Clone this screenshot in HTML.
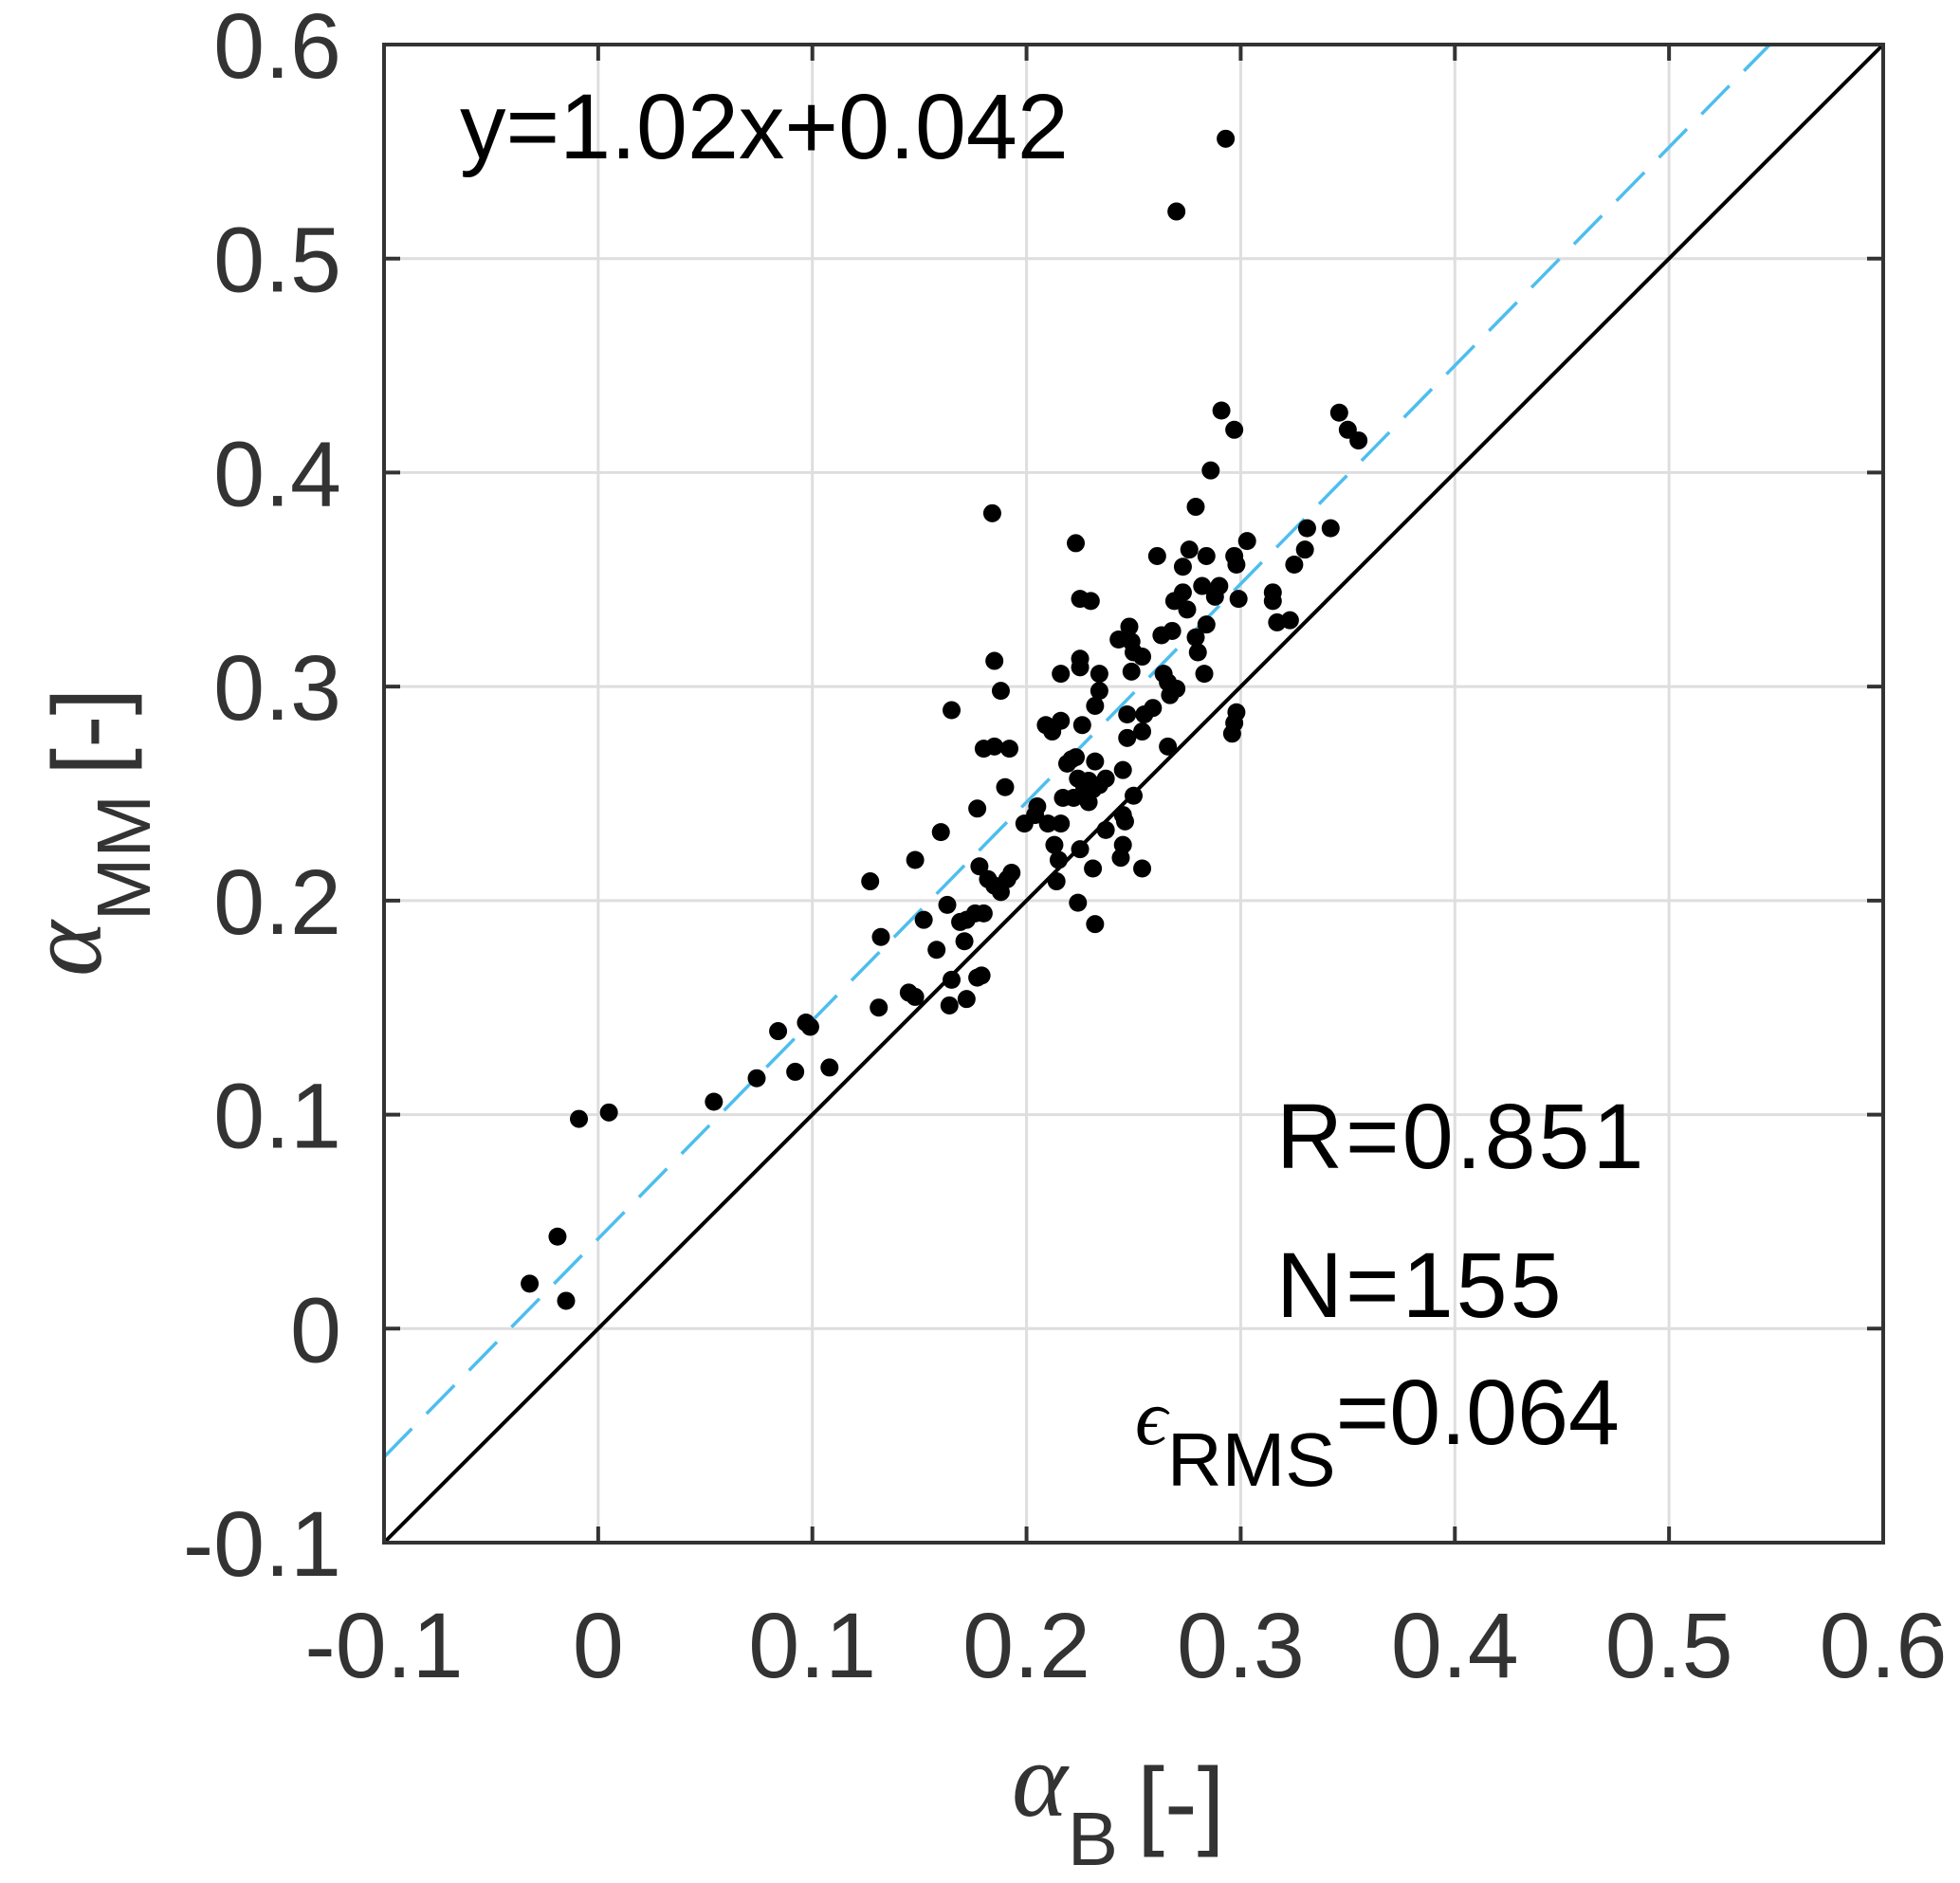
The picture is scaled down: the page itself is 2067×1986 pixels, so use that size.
<!DOCTYPE html>
<html><head><meta charset="utf-8">
<style>
html,body{margin:0;padding:0;background:#fff;}
svg{display:block;font-family:"Liberation Sans",Arial,sans-serif;}
</style></head>
<body>
<svg id="chart" width="2067" height="1986" viewBox="0 0 2067 1986" xmlns="http://www.w3.org/2000/svg">
<g id="grid"></g>
<g id="lines"></g>
<g id="points"></g>
<g id="axes"></g>
<text x="485" y="167" font-size="97" fill="#000">y=1.02x+0.042</text>
<text x="1346" y="1232" font-size="97" fill="#000" letter-spacing="3">R=0.851</text>
<text x="1346" y="1389" font-size="97" fill="#000" letter-spacing="3">N=155</text>
<text x="1197" y="1523" font-size="97" fill="#000"><tspan font-family="'Liberation Serif',serif" font-style="italic" font-size="84">ϵ</tspan><tspan font-size="80" dy="44">RMS</tspan><tspan dy="-44">=0.064</tspan></text>
<text x="1067" y="1915" font-size="97" fill="#333"><tspan font-family="'Liberation Serif',serif" font-style="italic" font-size="112">α</tspan><tspan font-size="80" dy="52">B</tspan><tspan dy="-30" dx="20" font-size="104">[-]</tspan></text>
<text transform="translate(106,1030) rotate(-90)" font-size="97" fill="#333"><tspan font-family="'Liberation Serif',serif" font-style="italic" font-size="112">α</tspan><tspan font-size="80" dy="52">MM</tspan><tspan dy="-30" dx="20" font-size="104">[-]</tspan></text>
</svg>
<script>
const xTicks=[-0.1,0,0.1,0.2,0.3,0.4,0.5,0.6];
const yTicks=[-0.1,0,0.1,0.2,0.3,0.4,0.5,0.6];
const xTickLabels=["-0.1","0","0.1","0.2","0.3","0.4","0.5","0.6"];
const yTickLabels=["-0.1","0","0.1","0.2","0.3","0.4","0.5","0.6"];
const fitSlope=1.02;
const fitIntercept=0.042;
const xVals=[0.293,0.270,0.291,0.297,0.346,0.350,0.355,0.286,0.184,0.279,0.223,0.303,0.331,0.342,0.330,0.325,0.261,0.276,0.284,0.297,0.298,0.273,0.273,0.282,0.290,0.288,0.299,0.225,0.230,0.269,0.275,0.284,0.315,0.315,0.317,0.323,0.248,0.279,0.263,0.268,0.243,0.249,0.254,0.250,0.280,0.185,0.225,0.225,0.216,0.234,0.249,0.283,0.264,0.266,0.234,0.188,0.270,0.267,0.165,0.232,0.259,0.247,0.255,0.298,0.226,0.209,0.216,0.212,0.297,0.296,0.254,0.247,0.266,0.180,0.185,0.192,0.232,0.221,0.223,0.245,0.219,0.190,0.224,0.229,0.234,0.237,0.227,0.231,0.250,0.217,0.222,0.205,0.229,0.177,0.204,0.199,0.210,0.216,0.245,0.246,0.237,0.160,0.213,0.225,0.245,0.215,0.244,0.231,0.254,0.148,0.193,0.185,0.191,0.188,0.178,0.182,0.214,0.127,0.180,0.176,0.172,0.169,0.163,0.152,0.224,0.232,0.132,0.171,0.158,0.177,0.179,0.165,0.145,0.148,0.172,0.164,0.131,0.084,0.097,0.099,0.074,0.092,0.108,0.054,-0.009,0.005,-0.019,-0.032,-0.015];
const yVals=[0.556,0.522,0.429,0.420,0.428,0.420,0.415,0.401,0.381,0.384,0.367,0.368,0.374,0.374,0.364,0.357,0.361,0.364,0.361,0.361,0.357,0.356,0.344,0.347,0.347,0.342,0.341,0.341,0.340,0.340,0.336,0.329,0.344,0.340,0.330,0.331,0.328,0.323,0.324,0.326,0.322,0.321,0.314,0.316,0.316,0.312,0.313,0.309,0.306,0.306,0.307,0.306,0.306,0.302,0.298,0.298,0.299,0.296,0.289,0.291,0.290,0.287,0.287,0.288,0.282,0.282,0.284,0.279,0.283,0.278,0.279,0.276,0.272,0.271,0.272,0.271,0.265,0.266,0.267,0.261,0.264,0.253,0.257,0.256,0.254,0.257,0.253,0.252,0.249,0.248,0.248,0.244,0.246,0.243,0.240,0.236,0.236,0.236,0.240,0.237,0.233,0.232,0.226,0.224,0.226,0.219,0.220,0.215,0.215,0.219,0.213,0.207,0.210,0.204,0.216,0.210,0.209,0.209,0.194,0.194,0.191,0.190,0.198,0.191,0.199,0.189,0.183,0.181,0.177,0.164,0.165,0.163,0.157,0.155,0.154,0.151,0.150,0.139,0.143,0.141,0.117,0.120,0.122,0.106,0.098,0.101,0.043,0.021,0.013];

const NS="http://www.w3.org/2000/svg";
const L=405,R=1986,T=47,B=1627,XMIN=-0.1,XMAX=0.6,YMIN=-0.1,YMAX=0.6;
function sx(v){return L+(v-XMIN)/(XMAX-XMIN)*(R-L);}
function sy(v){return B-(v-YMIN)/(YMAX-YMIN)*(B-T);}
function mk(tag,attrs,parent){const e=document.createElementNS(NS,tag);for(const k in attrs)e.setAttribute(k,attrs[k]);parent.appendChild(e);return e;}
const grid=document.getElementById('grid'),lines=document.getElementById('lines'),pts=document.getElementById('points'),axes=document.getElementById('axes');
xTicks.forEach((t,i)=>{
  const g=mk('line',{x1:sx(t),x2:sx(t),y1:T,y2:B,stroke:'#dedede','stroke-width':3},grid);
  
  
  const lab=mk('text',{x:sx(t),y:1769,'text-anchor':'middle','font-size':97,fill:'#333'},axes);
  lab.textContent=xTickLabels[i];
  
  
  const tk1=mk('line',{x1:sx(t),x2:sx(t),y1:B,y2:B-17,stroke:'#333','stroke-width':4},axes);
  
  
  const tk2=mk('line',{x1:sx(t),x2:sx(t),y1:T,y2:T+17,stroke:'#333','stroke-width':4},axes);
  
  
});
yTicks.forEach((t,i)=>{
  const g=mk('line',{x1:L,x2:R,y1:sy(t),y2:sy(t),stroke:'#dedede','stroke-width':3},grid);
  
  
  const lab=mk('text',{x:360,y:sy(t)+35,'text-anchor':'end','font-size':97,fill:'#333'},axes);
  lab.textContent=yTickLabels[i];
  
  
  const tk1=mk('line',{x1:L,x2:L+17,y1:sy(t),y2:sy(t),stroke:'#333','stroke-width':4},axes);
  
  
  const tk2=mk('line',{x1:R,x2:R-17,y1:sy(t),y2:sy(t),stroke:'#333','stroke-width':4},axes);
  
  
});
const one=mk('line',{x1:sx(-0.1),y1:sy(-0.1),x2:sx(0.6),y2:sy(0.6),stroke:'#000','stroke-width':4},lines);


const xEnd=(YMAX-fitIntercept)/fitSlope;
const fit=mk('line',{x1:sx(-0.1),y1:sy(fitSlope*-0.1+fitIntercept),x2:sx(xEnd),y2:sy(YMAX),stroke:'#4DBEEE','stroke-width':3.5,'stroke-dasharray':'42 22'},lines);


xVals.forEach((x,i)=>{
  const c=mk('circle',{cx:sx(x),cy:sy(yVals[i]),r:9.5,fill:'#000'},pts);
  
  
});
const frame=mk('rect',{x:L,y:T,width:R-L,height:B-T,fill:'none',stroke:'#333','stroke-width':4},axes);


</script>
</body></html>
